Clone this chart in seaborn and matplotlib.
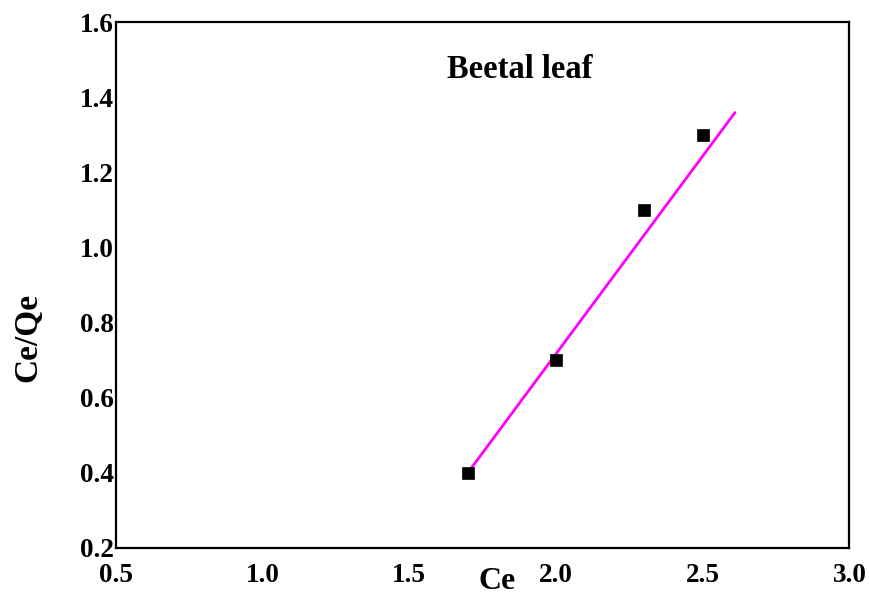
import matplotlib
matplotlib.use("Agg")
import matplotlib.pyplot as plt
import seaborn as sns
import pandas as pd

# Langmuir-type linear plot: Ce against Ce/Qe
ce = [1.7, 2.0, 2.3, 2.5]
ce_qe = [0.4, 0.7, 1.1, 1.3]

# Endpoints of the fitted straight line
fit_ce = [1.69, 2.61]
fit_ce_qe = [0.39, 1.36]

x_ticks = [0.5, 1.0, 1.5, 2.0, 2.5, 3.0]
y_ticks = [0.2, 0.4, 0.6, 0.8, 1.0, 1.2, 1.4, 1.6]

sns.set_theme(style="white")
plt.rcParams["font.family"] = ["Liberation Serif", "DejaVu Serif"]
plt.rcParams["font.weight"] = "bold"
plt.rcParams["text.color"] = "black"
plt.rcParams["axes.labelcolor"] = "black"
plt.rcParams["xtick.color"] = "black"
plt.rcParams["ytick.color"] = "black"

fig = plt.figure(figsize=(8.7, 5.95), dpi=100)
ax = fig.add_axes([0.1328, 0.079, 0.8436, 0.8832])

points = pd.DataFrame({"Ce": ce, "Ce/Qe": ce_qe})
fit = pd.DataFrame({"Ce": fit_ce, "Ce/Qe": fit_ce_qe})

sns.lineplot(data=fit, x="Ce", y="Ce/Qe", color="#ff00ff", linewidth=2.0, ax=ax, zorder=2)
sns.scatterplot(data=points, x="Ce", y="Ce/Qe", marker="s", s=80, color="black",
                edgecolor="black", linewidth=0.5, ax=ax, zorder=3)

ax.set_xlim(0.5, 3.0)
ax.set_ylim(0.2, 1.6)
ax.set_xticks(x_ticks)
ax.set_yticks(y_ticks)
ax.set_xticklabels([f"{v:.1f}" for v in x_ticks], fontsize=19.5, fontweight="bold")
ax.set_yticklabels([f"{v:.1f}" for v in y_ticks], fontsize=19.5, fontweight="bold")
ax.tick_params(axis="both", length=0)
ax.tick_params(axis="x", pad=11)
ax.tick_params(axis="y", pad=1)

for spine in ax.spines.values():
    spine.set_visible(True)
    spine.set_color("black")
    spine.set_linewidth(1.6)

ax.set_xlabel("Ce", fontsize=23, fontweight="bold", va="baseline")
ax.xaxis.set_label_coords(0.520, -0.0785)
ax.set_ylabel("Ce/Qe", fontsize=24, fontweight="bold", va="center")
ax.yaxis.set_label_coords(-0.120, 0.40)

ax.text(1.878, 1.452, "Beetal leaf", fontsize=23.5, fontweight="bold",
        ha="center", va="baseline")

fig.savefig("out.png", dpi=100)
